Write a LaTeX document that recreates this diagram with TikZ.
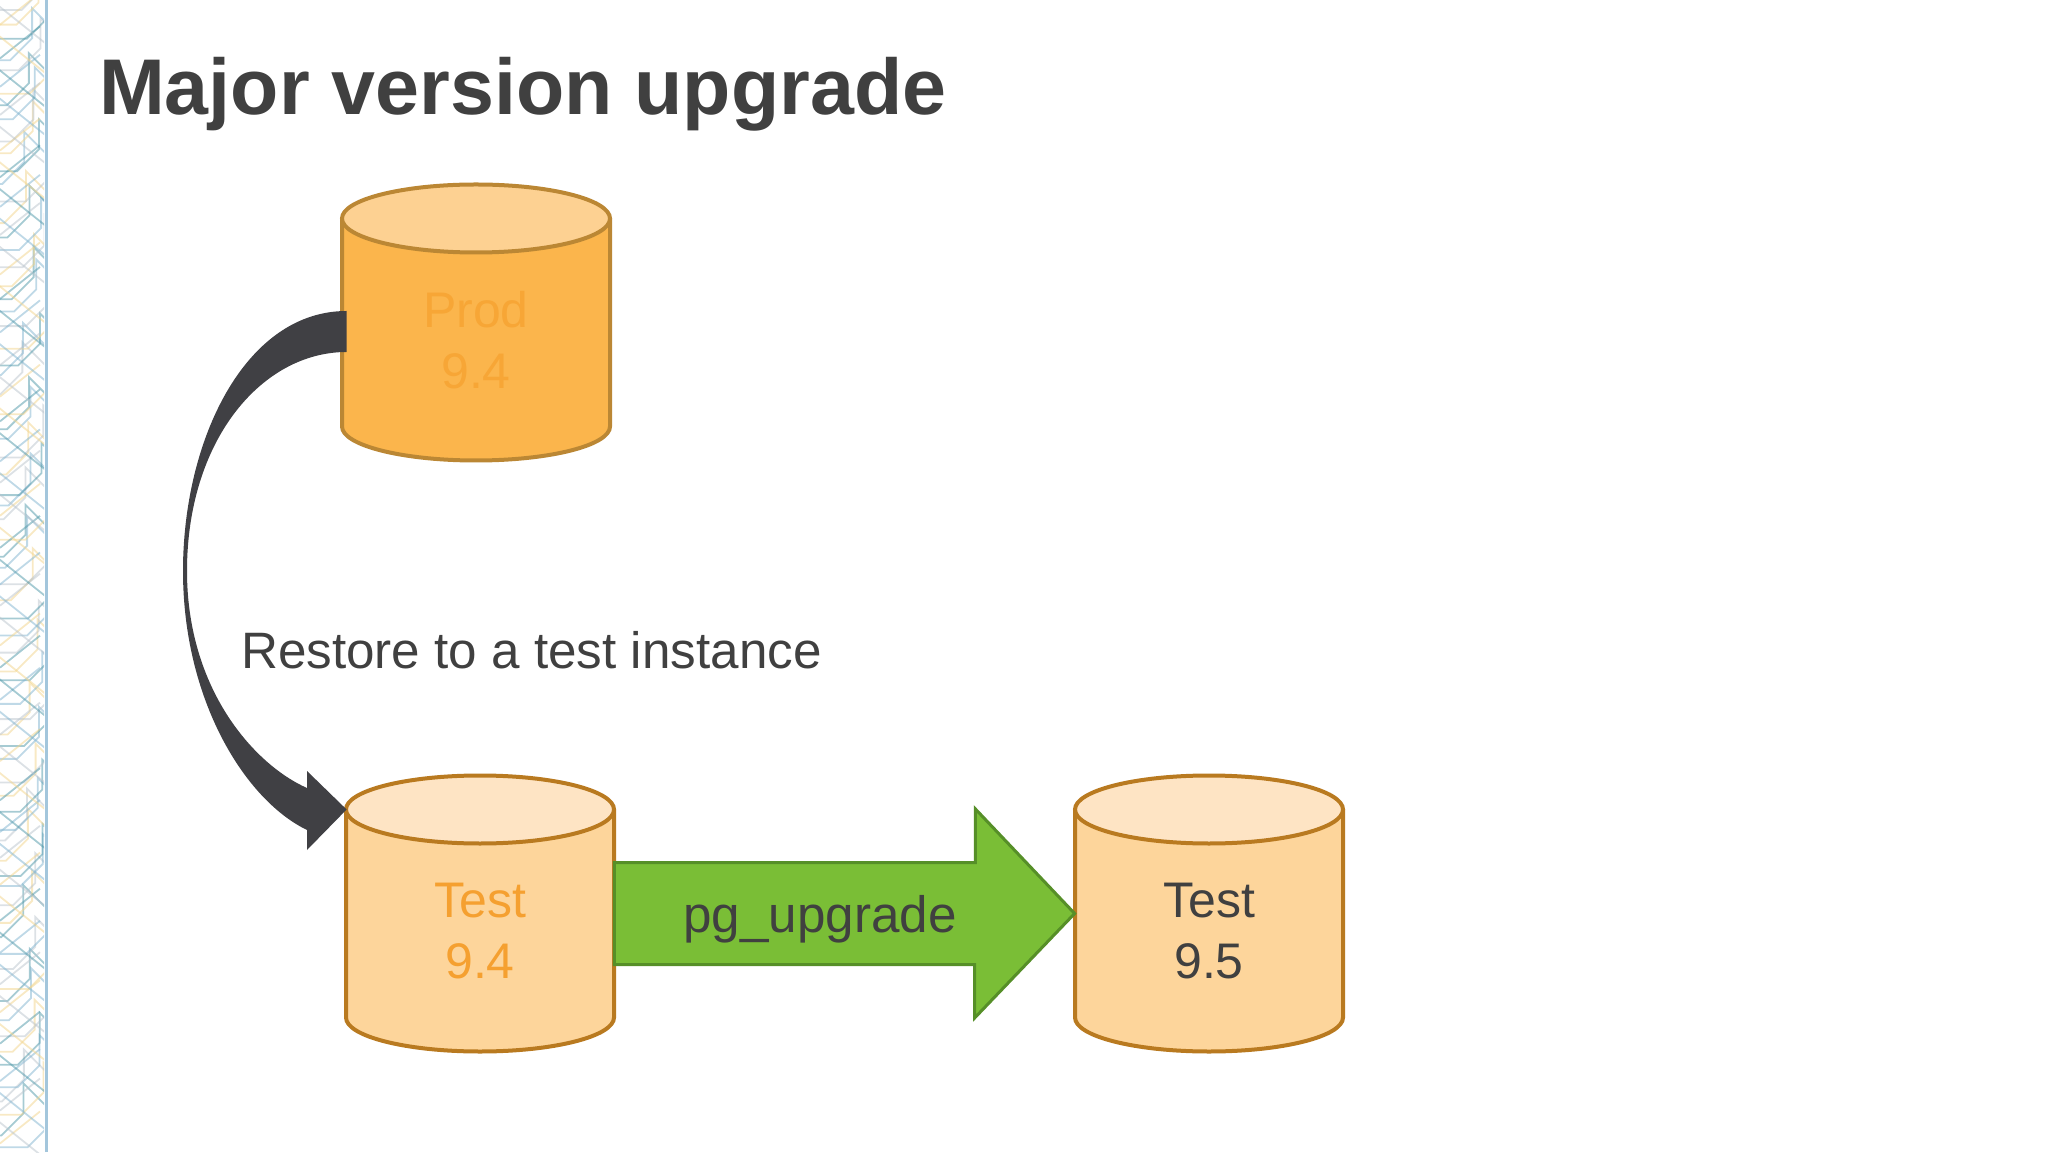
\documentclass[tikz,border=0pt]{standalone}
\usepackage{fontspec}
\setmainfont{Liberation Sans}
\usetikzlibrary{shapes.geometric, arrows.meta}

\definecolor{inkgray}{HTML}{404040}
\definecolor{prodbody}{HTML}{FBB54C}
\definecolor{prodtop}{HTML}{FDD192}
\definecolor{prodedge}{HTML}{BB8734}
\definecolor{prodink}{HTML}{F7A636}
\definecolor{testbody}{HTML}{FDD59B}
\definecolor{testtop}{HTML}{FEE4C4}
\definecolor{testedge}{HTML}{B97A20}
\definecolor{testink}{HTML}{F5A030}
\definecolor{upgfill}{HTML}{7ABE36}
\definecolor{upgedge}{HTML}{568F28}
\definecolor{restorefill}{HTML}{404044}
\definecolor{strip0}{HTML}{7FB3CF}
\definecolor{strip1}{HTML}{4E97A8}
\definecolor{strip2}{HTML}{F2D48A}
\definecolor{strip3}{HTML}{B9C3CC}
\definecolor{stripedge}{HTML}{A3C6DC}

\tikzset{
  drumline/.style={line width=2pt},
  drumbox/.style={rectangle, minimum width=134pt, minimum height=138pt, inner sep=0pt},
  drumtext/.style={align=center, font=\fontsize{25}{30.5}\selectfont},
  stripline/.style={line width=0.9pt, opacity=0.5},
}

% cylinder: x, y, body, top, edge
\newcommand{\drum}[5]{%
  \filldraw[drumline, draw=#5, fill=#3] (#1-134,#2+104) -- (#1-134,#2-104)
    arc[start angle=180, end angle=360, x radius=134, y radius=34] -- (#1+134,#2+104);
  \filldraw[drumline, draw=#5, fill=#4] (#1,#2+104) ellipse [x radius=134, y radius=34];
}

\begin{document}
\begin{tikzpicture}[x=0.5pt, y=0.5pt]
            \useasboundingbox (0,0) rectangle (2048,1152);
            % Side strip
            \begin{scope}
                \clip (0,0) rectangle (44,1152);
                \pgfmathsetseed{5}
                \foreach \n in {0,...,71} {
                    \pgfmathsetmacro{\ya}{\n*16+rnd*10}
                    \pgfmathsetmacro{\xa}{rnd*30}
                    \pgfmathtruncatemacro{\ci}{mod(\n,4)}
                    \draw[stripline, draw=strip\ci] (-5,\ya) -- (\xa,\ya) -- ++(22,22) -- ++(0,30) -- ++(30,-30);
                }
                \foreach \n in {0,...,37} {
                    \pgfmathsetmacro{\ya}{\n*31+rnd*12}
                    \pgfmathtruncatemacro{\ci}{mod(\n+2,4)}
                    \draw[stripline, draw=strip\ci] (-5,\ya) -- ++(50,-40) (0,\ya+8) -- ++(40,32);
                }
            \end{scope}
            \draw[line width=1.5pt, stripedge] (46,0) -- (46,1152);
            % Title
            \node[anchor=base west, text=inkgray, font=\fontsize{39.5}{48}\selectfont\bfseries] (title) at (92,1037) {Major version upgrade};
            % Databases
            \drum{476}{829.5}{prodbody}{prodtop}{prodedge}
            \drum{480}{238.5}{testbody}{testtop}{testedge}
            \drum{1209}{238.5}{testbody}{testtop}{testedge}
            \node[drumbox] (prod) at (476,829.5) {};
            \node[drumbox] (test94) at (480,238.5) {};
            \node[drumbox] (test95) at (1209,238.5) {};
            \node[drumtext, text=prodink] (prodlabel) at ([yshift=-9pt]prod.center) {Prod\\9.4};
            \node[drumtext, text=testink] (test94label) at ([yshift=-9pt]test94.center) {Test\\9.4};
            \node[drumtext, text=inkgray] (test95label) at ([yshift=-9pt]test95.center) {Test\\9.5};
            % Restore
            \fill[restorefill] ([shift={(5,11.5)}]prod.west) .. controls (245,841) and (183,712) .. (183,581)
                .. controls (183,452) and (245,352) .. (307,322) -- (307,302)
                -- ([shift={(1,104)}]test94.west) -- (307,381) -- (307,364)
                .. controls (255,387) and (187,462) .. (187,581)
                .. controls (187,712) and (262,800) .. ([shift={(5,-29.5)}]prod.west) -- cycle;
            \node[anchor=base west, text=inkgray, font=\fontsize{25.6}{30}\selectfont] (restore) at (234,484) {Restore to a test instance};
            % Upgrade
            \filldraw[line width=1.5pt, draw=upgedge, fill=upgfill] ([yshift=25.5pt]test94.east) -- ++(361,0) -- ++(0,53.5)
                -- (test95.west) -- ++(-100,-104.5) -- ++(0,53.5) -- ([yshift=-25.5pt]test94.east) -- cycle;
            \node[anchor=base, text=inkgray, font=\fontsize{25.6}{30}\selectfont] (upglabel) at (820,220) {pg\_upgrade};
        \end{tikzpicture}
\end{document}
